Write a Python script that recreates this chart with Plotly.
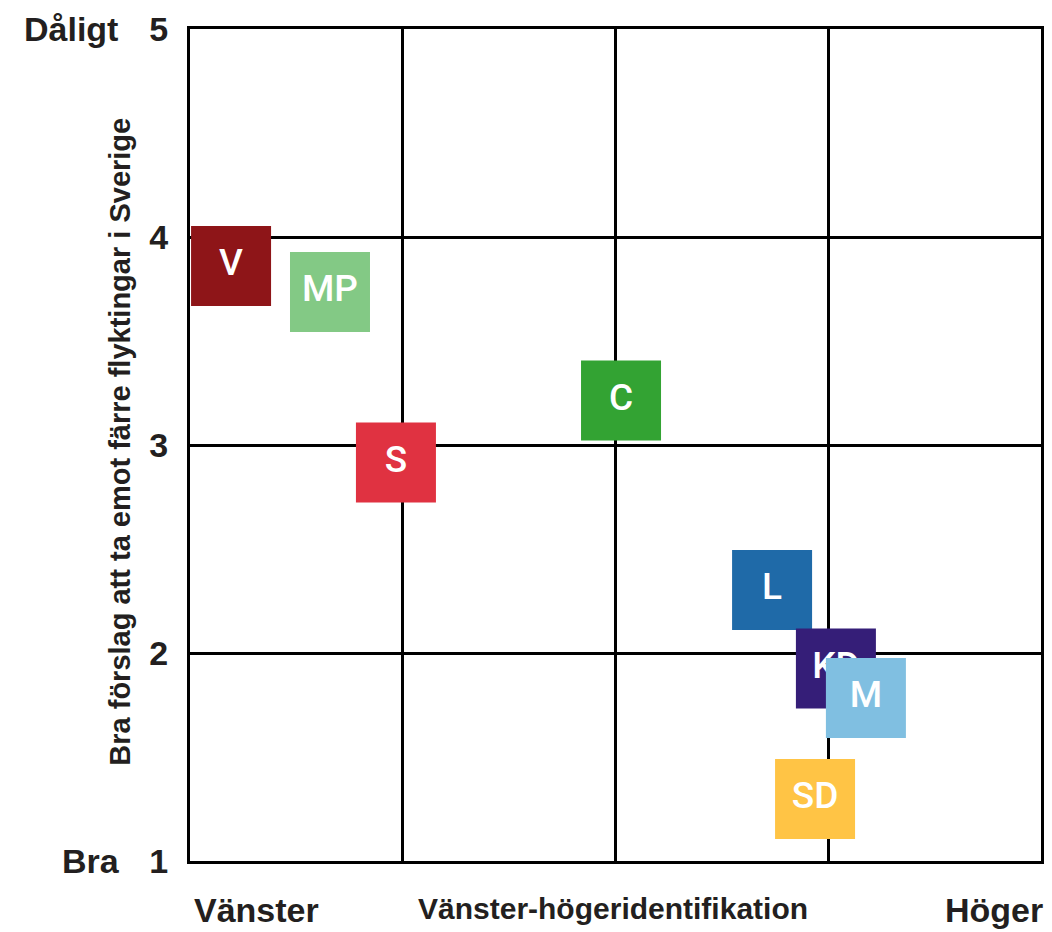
import plotly.graph_objects as go

parties = ["V", "MP", "S", "C", "L", "KD", "M", "SD"]
left_right = [0.193, 0.658, 0.968, 2.026, 2.736, 3.036, 3.177, 2.938]
refugees = [3.861, 3.736, 2.916, 3.214, 2.303, 1.926, 1.784, 1.298]
colors = ["#8E1518", "#83C985", "#E03241", "#33A333", "#1F6AA8", "#351E78", "#80BFE1", "#FFC445"]
y_ticks = [1, 2, 3, 4, 5]

fig = go.Figure()
for p, x, y, c in zip(parties, left_right, refugees, colors):
    fig.add_trace(go.Scatter(
        x=[x], y=[y], mode="markers+text", text=[p],
        textposition="middle center",
        textfont=dict(family="Roboto", size=37, color="white", weight=500),
        marker=dict(symbol="square", size=80, color=c, line=dict(width=0)),
        showlegend=False, hoverinfo="skip", cliponaxis=False,
    ))

fig.update_layout(
    width=1044, height=924,
    margin=dict(l=182, r=11, t=21, b=71, autoexpand=False),
    plot_bgcolor="white", paper_bgcolor="white",
    font=dict(family="Liberation Sans", color="#231f20"),
)
fig.update_xaxes(
    range=[0, 4], dtick=1, showticklabels=False, showgrid=True, automargin=False,
    gridcolor="black", gridwidth=2.5, zeroline=False,
    showline=True, linecolor="black", linewidth=3, mirror=True,
)
fig.update_yaxes(
    range=[1, 5], tickvals=y_ticks, ticktext=[str(v) for v in y_ticks], automargin=False,
    showgrid=True, gridcolor="black", gridwidth=2.5, zeroline=False,
    showline=True, linecolor="black", linewidth=3, mirror=True,
    tickfont=dict(family="Liberation Sans", size=34, color="#231f20", weight="bold"),
    ticklabelstandoff=12,
)

ann_font = dict(family="Liberation Sans", color="#231f20", weight="bold")
fig.add_annotation(text="Dåligt", xref="paper", yref="paper", x=-70/851, y=1.0,
                   xanchor="right", yanchor="middle", showarrow=False,
                   font=dict(size=34, **ann_font))
fig.add_annotation(text="Bra", xref="paper", yref="paper", x=-70/851, y=0.0,
                   xanchor="right", yanchor="middle", showarrow=False, xshift=2,
                   font=dict(size=34, **ann_font))
fig.add_annotation(text="Bra förslag att ta emot färre flyktingar i Sverige",
                   xref="paper", yref="paper", x=-70/851, y=0.504, textangle=-90,
                   xanchor="center", yanchor="middle", showarrow=False,
                   font=dict(size=29, **ann_font))
fig.add_annotation(text="Vänster", xref="paper", yref="paper", x=0.002, y=-49/832,
                   xanchor="left", yanchor="middle", showarrow=False,
                   font=dict(size=34, **ann_font))
fig.add_annotation(text="Höger", xref="paper", yref="paper", x=1.0, y=-49/832,
                   xanchor="right", yanchor="middle", showarrow=False, xshift=4,
                   font=dict(size=34, **ann_font))
fig.add_annotation(text="Vänster-högeridentifikation", xref="paper", yref="paper",
                   x=(613-190)/851, y=-47/832,
                   xanchor="center", yanchor="middle", showarrow=False,
                   font=dict(size=30, **ann_font))

fig.write_html("out.html")
